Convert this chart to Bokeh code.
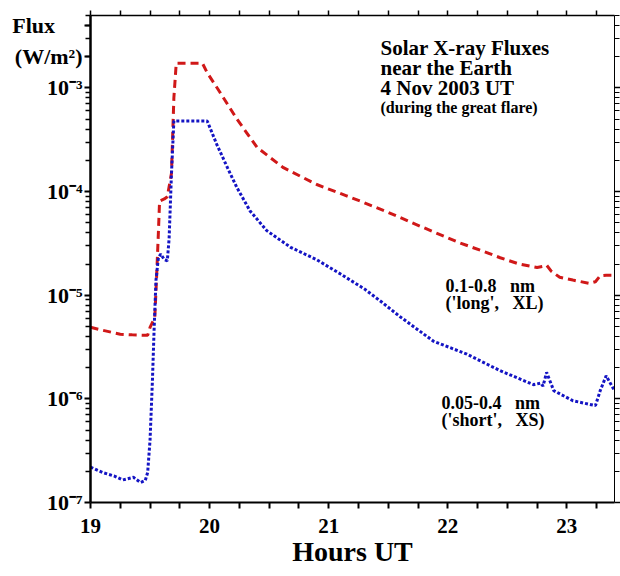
from bokeh.plotting import figure
from bokeh.models import (FixedTicker, LogAxis, LinearAxis, Label, Range1d,
                          CustomJSTickFormatter)
from bokeh.embed import file_html
from bokeh.resources import INLINE

# ---- data ----
long_t = [19.00, 19.10, 19.25, 19.35, 19.48, 19.50, 19.54, 19.555, 19.57, 19.58,
          19.62, 19.645, 19.68, 19.70, 19.72, 19.94, 19.98, 20.08, 20.23, 20.40,
          20.62, 20.90, 21.15, 21.30, 21.50, 21.70, 21.90, 22.10, 22.30, 22.44,
          22.60, 22.75, 22.80, 22.83, 22.87, 22.94, 23.05, 23.19, 23.24, 23.28,
          23.33, 23.40]
long_f = [4.9e-6, 4.6e-6, 4.2e-6, 4.15e-6, 4.1e-6, 4.9e-6, 6.1e-6, 1.5e-5, 4.0e-5, 8.1e-5,
          8.5e-5, 8.9e-5, 1.5e-4, 8e-4, 1.73e-3, 1.73e-3, 1.4e-3, 9.35e-4, 5.0e-4, 2.66e-4,
          1.7e-4, 1.17e-4, 9.1e-5, 7.8e-5, 6.3e-5, 5.0e-5, 4.0e-5, 3.2e-5, 2.65e-5, 2.3e-5,
          2.0e-5, 1.85e-5, 1.9e-5, 1.95e-5, 1.7e-5, 1.49e-5, 1.4e-5, 1.3e-5, 1.35e-5, 1.54e-5,
          1.56e-5, 1.56e-5]

short_t = [19.00, 19.10, 19.20, 19.27, 19.36, 19.42, 19.46, 19.48, 19.50, 19.52,
           19.535, 19.55, 19.57, 19.59, 19.62, 19.645, 19.66, 19.68, 19.70, 19.98,
           20.06, 20.15, 20.23, 20.34, 20.48, 20.68, 20.90, 21.10, 21.30, 21.45,
           21.60, 21.88, 22.16, 22.44, 22.72, 22.78, 22.80, 22.83, 22.89, 23.05,
           23.24, 23.28, 23.33, 23.40]
short_f = [2.2e-7, 1.95e-7, 1.8e-7, 1.65e-7, 1.75e-7, 1.56e-7, 1.63e-7, 1.95e-7, 4e-7, 1.5e-6,
           5e-6, 1.4e-5, 2.3e-5, 2.5e-5, 2.2e-5, 2.15e-5, 3.5e-5, 1.5e-4, 4.8e-4, 4.8e-4,
           2.86e-4, 1.7e-4, 1.09e-4, 6.5e-5, 4.2e-5, 2.9e-5, 2.2e-5, 1.6e-5, 1.15e-5, 8.5e-6,
           6.2e-6, 3.6e-6, 2.7e-6, 1.87e-6, 1.37e-6, 1.42e-6, 1.33e-6, 1.8e-6, 1.2e-6, 9.6e-7,
           8.6e-7, 1.2e-6, 1.67e-6, 1.2e-6]

x_ticks = [19, 20, 21, 22, 23]
x_minor = [19.25, 19.5, 19.75, 20.25, 20.5, 20.75, 21.25, 21.5, 21.75,
           22.25, 22.5, 22.75, 23.25]
y_ticks = [1e-7, 1e-6, 1e-5, 1e-4, 1e-3]
y_minor = [k * d for d in [1e-7, 1e-6, 1e-5, 1e-4, 1e-3] for k in range(2, 10)]

NB = "\u00a0"
y_title = ["Flux", "(W/m\u00b2)"]      # shown at the top of the left axis
y_title_at = [4e-3, 2e-3]
title_lines = ["Solar X-ray Fluxes", "near the Earth", "4 Nov 2003 UT"]
subtitle = "(during the great flare)"
long_lbl = ["0.1-0.8" + NB * 3 + "nm", "('long'," + NB * 3 + "XL)"]
short_lbl = ["0.05-0.4" + NB * 3 + "nm", "('short'," + NB * 3 + "XS)"]

FONT = "Liberation Serif"
RED = "#d01818"
BLUE = "#1414c4"

p = figure(width=620, height=576, x_range=Range1d(19, 23.4),
           y_range=Range1d(1e-7, 5e-3), y_axis_type="log",
           output_backend="svg", toolbar_location=None,
           min_border_left=90, min_border_right=6, min_border_top=15,
           min_border_bottom=74)
p.outline_line_color = None
p.grid.visible = False
p.background_fill_color = "white"
p.border_fill_color = "white"

xt = FixedTicker(ticks=x_ticks, minor_ticks=x_minor)
yt_left = FixedTicker(ticks=y_ticks + y_title_at, minor_ticks=y_minor)
yt = FixedTicker(ticks=y_ticks, minor_ticks=y_minor)

sup_js = """
for (let i = 0; i < at.length; i++) {
  if (Math.abs(tick - at[i]) < 1e-9) return names[i];
}
const m = {'-':'\u207b','0':'\u2070','1':'\u00b9','2':'\u00b2','3':'\u00b3','4':'\u2074',
           '5':'\u2075','6':'\u2076','7':'\u2077','8':'\u2078','9':'\u2079'};
const e = String(Math.round(Math.log10(tick)));
let s = '';
for (const c of e) s += m[c];
return '10' + s;
"""
blank = CustomJSTickFormatter(code="return '';")

xa = p.xaxis[0]
xa.ticker = xt
xa.axis_line_width = 2
xa.major_tick_line_width = 2
xa.minor_tick_line_width = 2
xa.major_tick_in = 0
xa.major_tick_out = 6
xa.minor_tick_in = 0
xa.minor_tick_out = 6
xa.major_label_standoff = 10
xa.major_label_text_font = FONT
xa.major_label_text_font_style = "bold"
xa.major_label_text_font_size = "21px"
xa.major_label_text_color = "black"
xa.axis_label = "Hours UT"
xa.axis_label_text_font = FONT
xa.axis_label_text_font_style = "bold"
xa.axis_label_text_font_size = "28px"
xa.axis_label_text_color = "black"
xa.axis_label_standoff = 0

ya = p.yaxis[0]
ya.ticker = yt_left
ya.formatter = CustomJSTickFormatter(
    args=dict(at=y_title_at, names=[y_title[0] + NB * 5, y_title[1]]), code=sup_js)
ya.axis_line_width = 2.5
ya.major_tick_line_width = 2
ya.minor_tick_line_width = 1.5
ya.major_tick_in = 0
ya.major_tick_out = 6
ya.minor_tick_in = 0
ya.minor_tick_out = 5
ya.major_label_standoff = 2
ya.major_label_text_font = FONT
ya.major_label_text_font_style = "bold"
ya.major_label_text_font_size = "22px"
ya.major_label_text_color = "black"

top = LinearAxis(ticker=xt, formatter=blank, major_label_text_font_size="1px",
                 major_label_standoff=0, axis_line_width=1.5,
                 major_tick_in=0, major_tick_out=5, minor_tick_in=0,
                 minor_tick_out=5, major_tick_line_width=1.5,
                 minor_tick_line_width=1.5)
p.add_layout(top, "above")
right = LogAxis(ticker=yt, formatter=blank, major_label_text_font_size="1px",
                major_label_standoff=0, axis_line_width=1,
                major_tick_in=0, major_tick_out=6, minor_tick_in=0,
                minor_tick_out=5, major_tick_line_width=1.5,
                minor_tick_line_width=1)
p.add_layout(right, "right")

p.line(long_t, long_f, line_color=RED, line_width=3, line_dash="8 5")
p.line(short_t, short_f, line_color=BLUE, line_width=3, line_dash="3 2")

def lab(x, y, text, size):
    p.add_layout(Label(x=x, y=y, x_units="screen", y_units="screen", text=text,
                       text_font=FONT, text_font_style="bold",
                       text_font_size=size, text_color="black",
                       text_baseline="alphabetic", text_align="left"))

# page coords: frame left=90, bottom=502
for i, t in enumerate(title_lines):
    lab(380 - 90, 502 - (47 + 20 * i), t, "21px")
lab(380 - 90, 502 - 107, subtitle, "16px")
lab(445 - 90, 502 - 285, long_lbl[0], "18px")
lab(445 - 90, 502 - 302, long_lbl[1], "18px")
lab(441 - 90, 502 - 402, short_lbl[0], "18px")
lab(441 - 90, 502 - 419, short_lbl[1], "18px")

open("out.html", "w").write(file_html(p, INLINE))
